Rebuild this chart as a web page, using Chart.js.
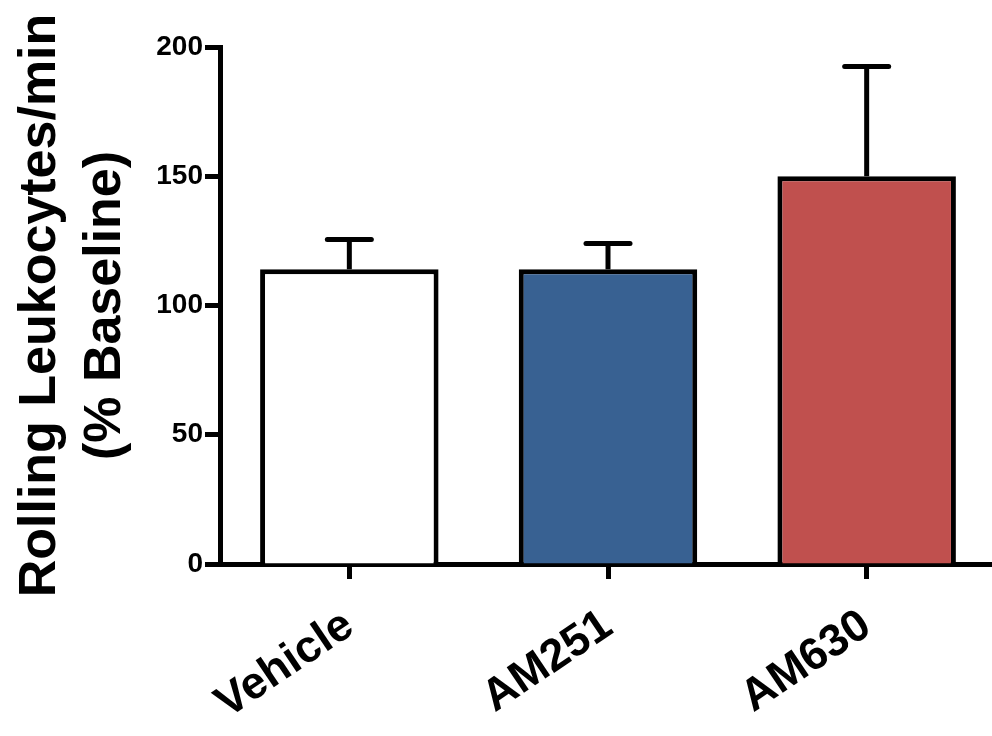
<!DOCTYPE html>
<html>
<head>
<meta charset="utf-8">
<script src="https://cdn.jsdelivr.net/npm/chart.js@4"></script>
<style>
  html, body { margin: 0; padding: 0; background: #fff; overflow: hidden; }
  #wrap { width: 996px; height: 736px; }
</style>
</head>
<body>
<div id="wrap"><canvas id="chart"></canvas></div>
<script>
// data
const groups = ["Vehicle", "AM251", "AM630"];
const meanValues = [114, 114, 150];
const semValues = [11.5, 10, 42.5];
const barColors = ["#ffffff", "#386192", "#c0504e"];
const yTicks = [0, 50, 100, 150, 200];

const FONT = "'Liberation Sans', Arial, Helvetica, sans-serif";

// error bars drawn above each bar (mean + SEM)
const errorBars = {
  id: "errorBars",
  afterDatasetsDraw(chart) {
    const ctx = chart.ctx;
    const y = chart.scales.y;
    const meta = chart.getDatasetMeta(0);
    ctx.save();
    ctx.strokeStyle = "#000";
    ctx.lineWidth = 5;
    meta.data.forEach((bar, i) => {
      const yBase = y.getPixelForValue(meanValues[i]);
      const yTop = y.getPixelForValue(meanValues[i] + semValues[i]);
      ctx.lineCap = "butt";
      ctx.beginPath();
      ctx.moveTo(bar.x, yBase);
      ctx.lineTo(bar.x, yTop);
      ctx.stroke();
      ctx.lineCap = "round";
      ctx.beginPath();
      ctx.moveTo(bar.x - 22, yTop);
      ctx.lineTo(bar.x + 22, yTop);
      ctx.stroke();
    });
    ctx.restore();
  }
};

new Chart(document.getElementById("chart"), {
  type: "bar",
  data: {
    labels: groups,
    datasets: [{
      data: meanValues,
      backgroundColor: barColors,
      borderColor: "#000",
      borderWidth: 5,
      borderSkipped: "start",
      barPercentage: 0.69,
      categoryPercentage: 1
    }]
  },
  options: {
    responsive: true,
    maintainAspectRatio: false,
    animation: false,
    layout: { padding: { top: 47, right: 0, left: 0, bottom: 0 } },
    plugins: { legend: { display: false }, tooltip: { enabled: false } },
    scales: {
      x: {
        offset: true,
        grid: { display: true, offset: false, drawOnChartArea: false, drawTicks: true, tickLength: 15, tickWidth: 5, tickColor: "#000" },
        border: { display: true, width: 5, color: "#000" },
        ticks: {
          color: "#000",
          font: { family: FONT, size: 45, weight: "bold" },
          minRotation: 34,
          maxRotation: 34,
          padding: 20
        },
        afterFit(scale) { scale.height = 172; }
      },
      y: {
        min: 0,
        max: 200,
        afterBuildTicks(scale) { scale.ticks = yTicks.map(v => ({ value: v })); },
        grid: { display: true, drawOnChartArea: false, drawTicks: true, tickLength: 15, tickWidth: 5, tickColor: "#000" },
        border: { display: true, width: 5, color: "#000" },
        ticks: {
          color: "#000",
          font: { family: FONT, size: 28, weight: "bold" },
          padding: 2
        },
        title: {
          display: true,
          text: ["Rolling Leukocytes/min", "(% Baseline)"],
          color: "#000",
          font: { family: FONT, size: 52, weight: "bold", lineHeight: 1.25 },
          padding: { top: 8, bottom: 0 }
        },
        afterFit(scale) { scale.width = 220; }
      }
    }
  },
  plugins: [errorBars]
});
</script>
</body>
</html>
